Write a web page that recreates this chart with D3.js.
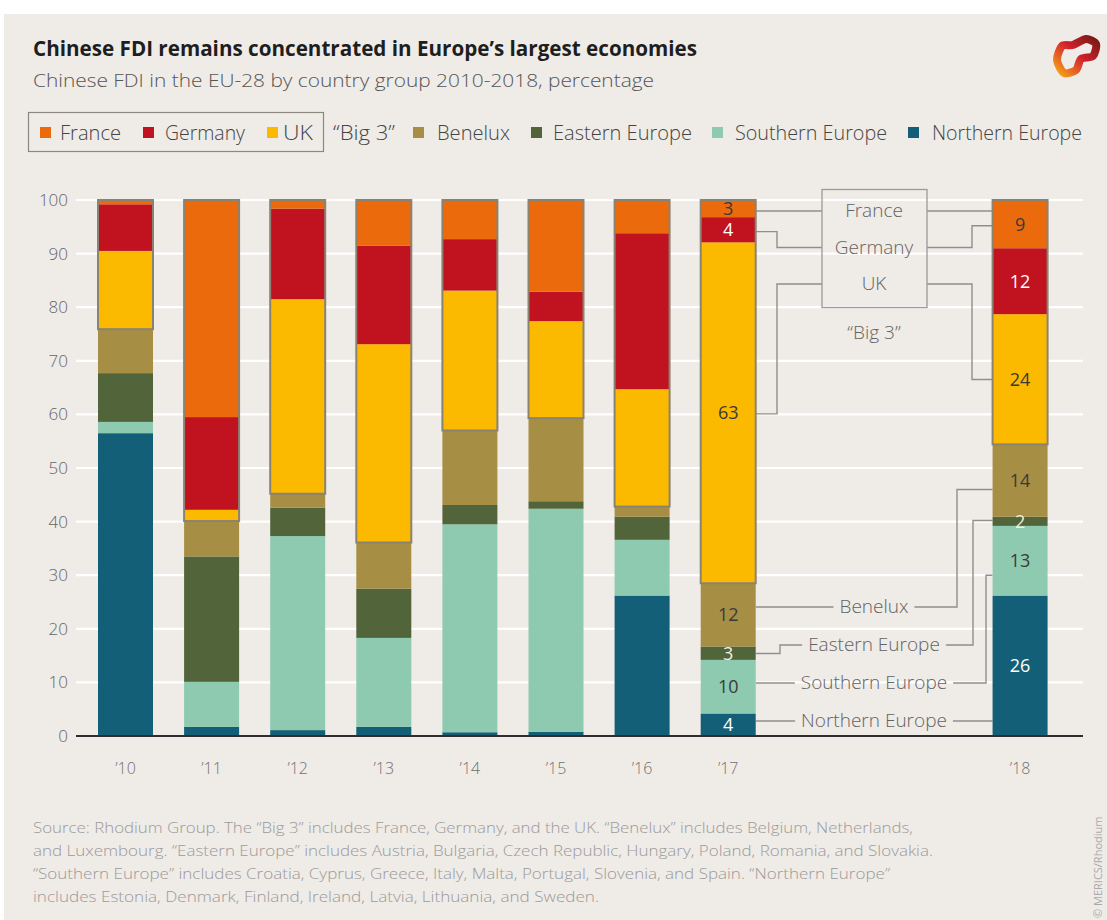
<!DOCTYPE html>
<html><head><meta charset="utf-8">
<script src="https://cdn.jsdelivr.net/npm/d3@7"></script>
<style>body{margin:0;background:#fff}svg{display:block}text{font-family:"Open Sans",sans-serif}</style>
</head><body><svg id="c" width="1107" height="920"></svg>
<script>
// ---- data ----
const years = ["’10","’11","’12","’13","’14","’15","’16","’17","’18"];
const france   = [0.8, 40.5, 1.6, 8.5, 7.3, 17.1, 6.2, 3.2, 9.0];
const germany  = [8.7, 17.3, 16.9, 18.4, 9.6, 5.5, 29.1, 4.7, 12.3];
const uk       = [14.6, 2.1, 36.3, 37.0, 26.1, 18.1, 21.9, 63.6, 24.3];
const benelux  = [8.2, 6.6, 2.6, 8.6, 13.9, 15.5, 1.9, 11.8, 13.5];
const eastern  = [9.1, 23.4, 5.3, 9.2, 3.6, 1.4, 4.3, 2.5, 1.7];
const southern = [2.1, 8.4, 36.2, 16.6, 38.8, 41.6, 10.4, 10.0, 13.0];
const northern = [56.5, 1.7, 1.1, 1.7, 0.7, 0.8, 26.2, 4.2, 26.2];
// printed labels for 2017 and 2018 (order: France, Germany, UK, Benelux, Eastern, Southern, Northern)
const labels2017 = [3, 4, 63, 12, 3, 10, 4];
const labels2018 = [9, 12, 24, 14, 2, 13, 26];
const seriesNames = ["France","Germany","UK","Benelux","Eastern Europe","Southern Europe","Northern Europe"];
const yTicks = [0,10,20,30,40,50,60,70,80,90,100];

// ---- style ----
const keys = ["france","germany","uk","benelux","eastern","southern","northern"];
const colors = {france:"#ea6a0c",germany:"#c0121f",uk:"#fbb900",benelux:"#a78e45",eastern:"#52653a",southern:"#8dcab0",northern:"#135f78"};
const labelFill = {france:"#3a3a3a",germany:"#ffffff",uk:"#3a3a3a",benelux:"#3a3a3a",eastern:"#f0f0dc",southern:"#3a3a3a",northern:"#ffffff"};
const valuesByKey = {france,germany,uk,benelux,eastern,southern,northern};

const svg = d3.select("#c");
svg.append("rect").attr("x",4).attr("y",14).attr("width",1103).attr("height",906).attr("fill","#efebe7");

function fit(t, w){ t.attr("textLength", w).attr("lengthAdjust","spacingAndGlyphs"); return t; }

// title
fit(svg.append("text").attr("x",33).attr("y",56).attr("font-size",21).attr("font-weight",700).attr("fill","#1e1e1e")
  .text("Chinese FDI remains concentrated in Europe’s largest economies"), 664);
fit(svg.append("text").attr("x",33).attr("y",87).attr("font-size",19).attr("font-weight",300).attr("fill","#555")
  .text("Chinese FDI in the EU-28 by country group 2010-2018, percentage"), 621);

// legend
const legendLayout = [
  {k:"france",  mx:40,  tx:60,  tw:61},
  {k:"germany", mx:143, tx:165, tw:80},
  {k:"uk",      mx:267, tx:283, tw:30},
  {k:"benelux", mx:413, tx:437, tw:73},
  {k:"eastern", mx:531, tx:553, tw:139},
  {k:"southern",mx:712, tx:735, tw:152},
  {k:"northern",mx:908, tx:932, tw:150}
];
svg.append("rect").attr("x",28.5).attr("y",112.5).attr("width",295).attr("height",39).attr("fill","none").attr("stroke","#8c8880").attr("stroke-width",1.2);
legendLayout.forEach(l=>{
  svg.append("rect").attr("x",l.mx).attr("y",127).attr("width",11).attr("height",11).attr("fill",colors[l.k]);
  fit(svg.append("text").attr("x",l.tx).attr("y",140).attr("font-size",20).attr("font-weight",300).attr("fill","#444")
    .text(seriesNames[keys.indexOf(l.k)]), l.tw);
});
fit(svg.append("text").attr("x",333).attr("y",140).attr("font-size",20).attr("font-weight",300).attr("fill","#444").text("“Big 3”"),62);

// scales
const slots = [0,1,2,3,4,5,6,7,10.39];
const x = d3.scaleLinear().domain([0,1]).range([98,184.1]);
const bw = 55;
const y = d3.scaleLinear().domain([0,100]).range([736,200]);

// grid
const g = svg.append("g");
g.selectAll("line.grid").data(yTicks.filter(d=>d>0)).join("line")
  .attr("x1",76).attr("x2",1083).attr("y1",d=>y(d)).attr("y2",d=>y(d))
  .attr("stroke","#ffffff").attr("stroke-width",2.2);
g.selectAll("text.yt").data(yTicks).join("text")
  .attr("x",68).attr("y",d=>y(d)+6).attr("text-anchor","end").attr("font-size",17).attr("font-weight",300).attr("fill","#666").text(d=>d);

// stack
const rows = years.map((yr,i)=>{const r={year:yr,i}; keys.forEach(k=>r[k]=valuesByKey[k][i]); return r;});
const stackOrder = ["northern","southern","eastern","benelux","uk","germany","france"];
const stacked = d3.stack().keys(stackOrder)(rows);

// connectors (drawn under bars)
const conn = svg.append("g").attr("fill","none").attr("stroke","#8f8f8f").attr("stroke-width",1.4);
const bar17R = x(slots[7])+bw, bar18L = x(slots[8]);
const boxL = 822, boxR = 927, labelCX = 874;
// left side: [hit value on '17 bar, elbow x, row y, end x]
const leftConn = [
  [97.9, null, 211, boxL],
  [94.1, 777, 247.5, boxL],
  [60.1, 777, 284, boxL],
  [24.1, null, 607, null, "Benelux"],
  [15.4, 780, 645, null, "Eastern Europe"],
  [9.9, null, 683, null, "Southern Europe"],
  [2.6, null, 721, null, "Northern Europe"]
];
const rightConn = [
  [null, 211, boxR, 211],
  [972, 247.5, boxR, 95.2],
  [972, 284, boxR, 66.5],
  [957, 607, null, 46.0, "Benelux"],
  [973, 645, null, 40.2, "Eastern Europe"],
  [986, 683, null, 30.0, "Southern Europe"],
  [null, 721, null, null, "Northern Europe"]
];
const annFont = 19;
const annG = svg.append("g");
const textW = {};
[["Benelux",607],["Eastern Europe",645],["Southern Europe",683],["Northern Europe",721]].forEach(([t,ry])=>{
  const el = annG.append("text").attr("x",labelCX).attr("y",ry+6).attr("text-anchor","middle").attr("font-size",annFont).attr("font-weight",300).attr("fill","#636363").text(t);
  textW[t] = el.node().getComputedTextLength();
});
["France","Germany","UK"].forEach((t,i)=>{
  annG.append("text").attr("x",labelCX).attr("y",[211,247.5,284][i]+6).attr("text-anchor","middle").attr("font-size",annFont).attr("font-weight",300).attr("fill","#636363").text(t);
});
annG.append("text").attr("x",labelCX).attr("y",339).attr("text-anchor","middle").attr("font-size",annFont).attr("font-weight",300).attr("fill","#636363").text("“Big 3”");
annG.append("rect").attr("x",boxL).attr("y",189.5).attr("width",boxR-boxL).attr("height",118).attr("fill","none").attr("stroke","#9a9a9a").attr("stroke-width",1.3);

leftConn.forEach(([v,ex,ry,endX,t])=>{
  const hy = y(v);
  const e = endX!=null?endX:labelCX - textW[t]/2 - 6;
  const pts = ex==null ? [[bar17R,ry],[e,ry]] : [[bar17R,hy],[ex,hy],[ex,ry],[e,ry]];
  conn.append("path").attr("d",d3.line()(pts));
});
rightConn.forEach(([ex,ry,startX,v,t])=>{
  const s = startX!=null?startX:labelCX + textW[t]/2 + 6;
  const pts = ex==null ? [[s,ry],[bar18L,ry]] : [[s,ry],[ex,ry],[ex,y(v)],[bar18L,y(v)]];
  conn.append("path").attr("d",d3.line()(pts));
});

// bars
const barsG = svg.append("g");
stacked.forEach(layer=>{
  barsG.selectAll(null).data(layer).join("rect")
    .attr("x",d=>x(slots[d.data.i])).attr("width",bw)
    .attr("y",d=>y(d[1])).attr("height",d=>y(d[0])-y(d[1]))
    .attr("fill",colors[layer.key]);
});
// Big 3 outline
const benTop = stacked.find(s=>s.key==="benelux");
barsG.selectAll(null).data(benTop).join("rect")
  .attr("x",d=>x(slots[d.data.i])).attr("width",bw)
  .attr("y",y(100)).attr("height",d=>y(d[1])-y(100))
  .attr("fill","none").attr("stroke","#8a8273").attr("stroke-width",2);

// value labels for '17 and '18
[[7,labels2017],[8,labels2018]].forEach(([i,labs])=>{
  keys.forEach((k,j)=>{
    const layer = stacked.find(s=>s.key===k)[i];
    const cy = (y(layer[0])+y(layer[1]))/2;
    svg.append("text").attr("x",x(slots[i])+bw/2).attr("y",cy+6.5).attr("text-anchor","middle")
      .attr("font-size",18).attr("fill",labelFill[k]).text(labs[j]);
  });
});

// baseline + x labels
svg.append("line").attr("x1",76).attr("x2",1083).attr("y1",y(0)).attr("y2",y(0)).attr("stroke","#2e2e2e").attr("stroke-width",2.2);
svg.selectAll("text.xt").data(years).join("text")
  .attr("x",(d,i)=>x(slots[i])+bw/2).attr("y",774).attr("text-anchor","middle").attr("font-size",16).attr("font-weight",300).attr("fill","#707070").text(d=>d);

// footer
const foot = [
 ["Source: Rhodium Group. The “Big 3” includes France, Germany, and the UK. “Benelux” includes Belgium, Netherlands,",880],
 ["and Luxembourg. “Eastern Europe” includes Austria, Bulgaria, Czech Republic, Hungary, Poland, Romania, and Slovakia.",900],
 ["“Southern Europe” includes Croatia, Cyprus, Greece, Italy, Malta, Portugal, Slovenia, and Spain. “Northern Europe”",857],
 ["includes Estonia, Denmark, Finland, Ireland, Latvia, Lithuania, and Sweden.",566]
];
foot.forEach(([t,w],i)=>{
  fit(svg.append("text").attr("x",33).attr("y",833+i*23).attr("font-size",15).attr("font-weight",300).attr("fill","#9a9a9a").text(t), w);
});
svg.append("text").attr("transform","translate(1102,918) rotate(-90)").attr("font-size",11).attr("fill","#aaa").text("© MERICS/Rhodium");

// logo
const defs = svg.append("defs");
const grad = defs.append("linearGradient").attr("id","lg").attr("x1","1").attr("y1","0").attr("x2","0").attr("y2","1");
grad.append("stop").attr("offset","0").attr("stop-color","#7a1a14");
grad.append("stop").attr("offset","0.45").attr("stop-color","#d11f2e");
grad.append("stop").attr("offset","1").attr("stop-color","#f6a11a");
const ring = [[1057,60],[1062,46],[1073,45],[1086,39],[1096,44],[1093,56],[1081,59],[1076,70],[1064,73]];
svg.append("path").attr("d",d3.line().curve(d3.curveCardinalClosed.tension(0.2))(ring))
  .attr("fill","none").attr("stroke","url(#lg)").attr("stroke-width",8);
</script></body></html>
